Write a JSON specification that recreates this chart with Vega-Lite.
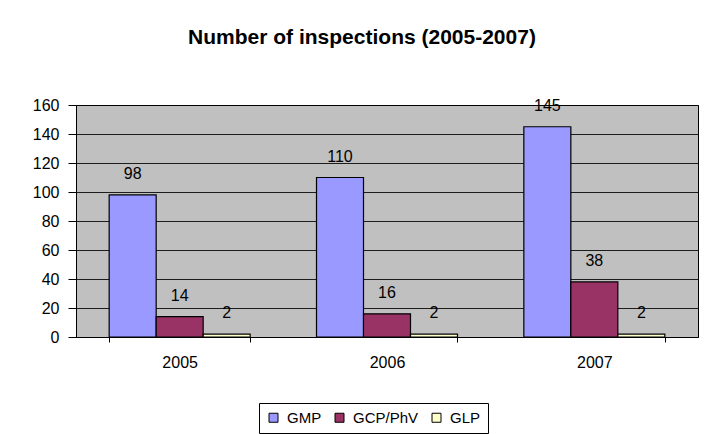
{
  "$schema": "https://vega.github.io/schema/vega-lite/v6.json",
  "width": 622,
  "height": 232,
  "padding": {"left": 32, "top": 27, "right": 5, "bottom": 0},
  "background": "white",
  "title": {
    "text": "Number of inspections (2005-2007)",
    "fontSize": 21,
    "fontWeight": "bold",
    "color": "black",
    "anchor": "middle",
    "offset": 49,
    "dx": -25
  },
  "data": {
    "values": [
      {"year": "2005", "type": "GMP", "count": 98},
      {"year": "2005", "type": "GCP/PhV", "count": 14},
      {"year": "2005", "type": "GLP", "count": 2},
      {"year": "2006", "type": "GMP", "count": 110},
      {"year": "2006", "type": "GCP/PhV", "count": 16},
      {"year": "2006", "type": "GLP", "count": 2},
      {"year": "2007", "type": "GMP", "count": 145},
      {"year": "2007", "type": "GCP/PhV", "count": 38},
      {"year": "2007", "type": "GLP", "count": 2}
    ]
  },
  "encoding": {
    "x": {
      "field": "year",
      "type": "nominal",
      "scale": {"paddingInner": 0.32, "paddingOuter": 0.16},
      "axis": {
        "title": null,
        "labelAngle": 0,
        "tickBand": "extent",
        "tickSize": 5,
        "labelPadding": 12,
        "labelFontSize": 16,
        "labelColor": "black",
        "domainColor": "black",
        "tickColor": "black"
      }
    },
    "xOffset": {
      "field": "type",
      "type": "nominal",
      "sort": ["GMP", "GCP/PhV", "GLP"],
      "scale": {"paddingInner": 0, "paddingOuter": 0}
    },
    "y": {
      "field": "count",
      "type": "quantitative",
      "scale": {"domain": [0, 160], "nice": false},
      "axis": {
        "title": null,
        "values": [0, 20, 40, 60, 80, 100, 120, 140, 160],
        "tickSize": 8,
        "labelPadding": 9,
        "labelFontSize": 16,
        "labelColor": "black",
        "domainColor": "black",
        "tickColor": "black",
        "grid": true,
        "gridColor": "black",
        "gridOpacity": 0.85
      }
    }
  },
  "layer": [
    {
      "mark": {"type": "bar", "stroke": "black", "strokeWidth": 1.2},
      "encoding": {
        "color": {
          "field": "type",
          "type": "nominal",
          "sort": ["GMP", "GCP/PhV", "GLP"],
          "scale": {
            "domain": ["GMP", "GCP/PhV", "GLP"],
            "range": ["#9999FF", "#993366", "#FFFFCC"]
          },
          "legend": {
            "title": null,
            "orient": "none",
            "direction": "horizontal",
            "legendX": 183,
            "legendY": 298,
            "symbolType": "square",
            "symbolSize": 81,
            "symbolStrokeColor": "black",
            "symbolStrokeWidth": 1,
            "symbolOpacity": 1,
            "labelFontSize": 15,
            "labelColor": "black",
            "labelOffset": 6,
            "columnPadding": 10,
            "strokeColor": "black",
            "padding": 7,
            "fillColor": "white"
          }
        }
      }
    },
    {
      "mark": {"type": "text", "baseline": "alphabetic", "dy": -16, "fontSize": 16, "color": "black"},
      "encoding": {
        "text": {"field": "count", "type": "quantitative"}
      }
    }
  ],
  "config": {
    "font": "Liberation Sans",
    "view": {"fill": "#C0C0C0", "stroke": "black", "strokeWidth": 1}
  }
}
